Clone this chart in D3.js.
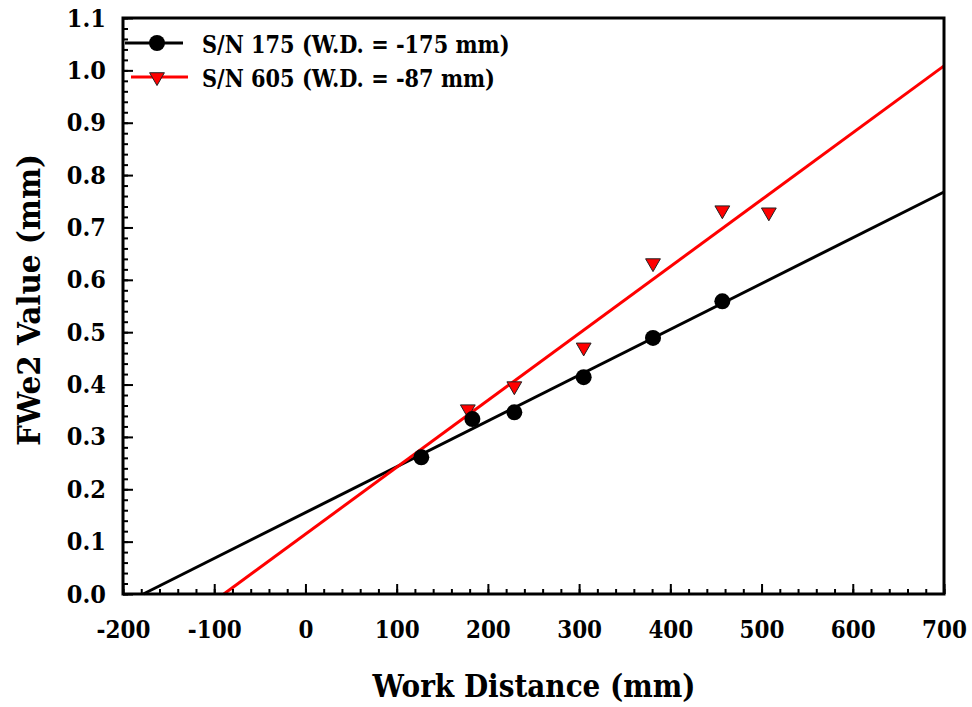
<!DOCTYPE html>
<html>
<head>
<meta charset="utf-8">
<script src="https://cdn.jsdelivr.net/npm/d3@7"></script>
<style>
  body { margin: 0; background: #fff; }
  svg text { font-weight: bold; }
</style>
</head>
<body>
<div id="chart"></div>
<script>
// work distance (mm) and FWe2 value (mm)
const sn175X = [127, 183, 229, 305, 381, 457];
const sn175Y = [0.261, 0.334, 0.347, 0.414, 0.489, 0.559];
const sn605X = [178, 229, 305, 381, 457, 508];
const sn605Y = [0.353, 0.397, 0.471, 0.632, 0.733, 0.729];
const seriesNames = ['S/N 175 (W.D. = -175 mm)', 'S/N 605 (W.D. = -87 mm)'];
const xTicks = [-200, -100, 0, 100, 200, 300, 400, 500, 600, 700];
const yTicks = [0, 0.1, 0.2, 0.3, 0.4, 0.5, 0.6, 0.7, 0.8, 0.9, 1.0, 1.1];

const W = 972, H = 707;
const m = { left: 123, top: 18, right: 28, bottom: 113 };
const iw = W - m.left - m.right;
const ih = H - m.top - m.bottom;
const serif = 'DejaVu Serif';

const svg = d3.select('#chart').append('svg')
	.attr('width', W)
	.attr('height', H)
	.attr('font-family', serif);

const g = svg.append('g').attr('transform', `translate(${m.left},${m.top})`);

const x = d3.scaleLinear().domain([-200, 700]).range([0, iw]);
const y = d3.scaleLinear().domain([0, 1.1]).range([ih, 0]);

// DejaVu Serif is wider than the Times face of the original, so narrow it a bit
const squeeze = (sel, k) => sel.each(function () {
	const len = this.getComputedTextLength();
	d3.select(this).attr('textLength', len * k).attr('lengthAdjust', 'spacingAndGlyphs');
});

// least squares fit, drawn from y = 0 to the right edge
const fit = (xs, ys) => {
	const mx = d3.mean(xs), my = d3.mean(ys);
	const sxy = d3.sum(xs, (v, i) => (v - mx) * (ys[i] - my));
	const sxx = d3.sum(xs, v => (v - mx) * (v - mx));
	const b = sxy / sxx;
	const a = my - b * mx;
	return [[-a / b, 0], [700, a + b * 700]];
};

const line = d3.line().x(d => x(d[0])).y(d => y(d[1]));

g.append('path')
	.attr('d', line(fit(sn175X, sn175Y)))
	.attr('fill', 'none')
	.attr('stroke', '#000')
	.attr('stroke-width', 3);

g.append('path')
	.attr('d', line(fit(sn605X, sn605Y)))
	.attr('fill', 'none')
	.attr('stroke', '#ff0000')
	.attr('stroke-width', 3);

const tri = d3.symbol().type(d3.symbolTriangle).size(95);

g.selectAll('.tri')
	.data(sn605X.map((v, i) => [v, sn605Y[i]]))
	.join('path')
	.attr('class', 'tri')
	.attr('d', tri)
	.attr('transform', d => `translate(${x(d[0])},${y(d[1])}) rotate(180)`)
	.attr('fill', '#ff0000')
	.attr('stroke', '#222')
	.attr('stroke-width', 1);

g.selectAll('.dot')
	.data(sn175X.map((v, i) => [v, sn175Y[i]]))
	.join('circle')
	.attr('class', 'dot')
	.attr('cx', d => x(d[0]))
	.attr('cy', d => y(d[1]))
	.attr('r', 8)
	.attr('fill', '#000');

// minor ticks
g.append('g')
	.attr('transform', `translate(0,${ih})`)
	.call(d3.axisBottom(x).tickValues(d3.range(-200, 701, 20)).tickSize(-5).tickFormat(''))
	.call(a => a.select('.domain').remove())
	.call(a => a.selectAll('line').attr('stroke-width', 2));

g.append('g')
	.call(d3.axisLeft(y).tickValues(d3.range(0, 56).map(i => i * 0.02)).tickSize(-5).tickFormat(''))
	.call(a => a.select('.domain').remove())
	.call(a => a.selectAll('line').attr('stroke-width', 2));

// major ticks
g.append('g')
	.attr('transform', `translate(0,${ih})`)
	.call(d3.axisBottom(x).tickValues(xTicks).tickSize(-10).tickPadding(26).tickFormat(d => String(d)))
	.call(a => a.attr('font-family', serif))
	.call(a => a.select('.domain').remove())
	.call(a => a.selectAll('line').attr('stroke-width', 2))
	.call(a => a.selectAll('text').attr('font-size', 25).attr('fill', '#000').call(squeeze, 0.86));

g.append('g')
	.call(d3.axisLeft(y).tickValues(yTicks).tickSize(-10).tickPadding(17).tickFormat(d => d.toFixed(1)))
	.call(a => a.attr('font-family', serif))
	.call(a => a.select('.domain').remove())
	.call(a => a.selectAll('line').attr('stroke-width', 2))
	.call(a => a.selectAll('text').attr('font-size', 25).attr('fill', '#000').call(squeeze, 0.9));

// frame
g.append('rect')
	.attr('width', iw)
	.attr('height', ih)
	.attr('fill', 'none')
	.attr('stroke', '#000')
	.attr('stroke-width', 3);

// axis titles
svg.append('text')
	.attr('x', 534)
	.attr('y', 697)
	.attr('text-anchor', 'middle')
	.attr('font-size', 31)
	.text('Work Distance (mm)')
	.call(squeeze, 0.9);

svg.append('text')
	.attr('transform', `translate(40,300) rotate(-90)`)
	.attr('text-anchor', 'middle')
	.attr('font-size', 31)
	.text('FWe2 Value (mm)')
	.call(squeeze, 0.95);

// legend
const leg = svg.append('g');
const legRows = [
	{ name: seriesNames[0], color: '#000', x0: 125, x1: 183, y: 43, mark: 'circle' },
	{ name: seriesNames[1], color: '#ff0000', x0: 131, x1: 188, y: 77, mark: 'tri' }
];
legRows.forEach(r => {
	leg.append('line')
		.attr('x1', r.x0).attr('x2', r.x1)
		.attr('y1', r.y).attr('y2', r.y)
		.attr('stroke', r.color)
		.attr('stroke-width', 3);
	if (r.mark === 'circle') {
		leg.append('circle').attr('cx', 157).attr('cy', r.y).attr('r', 8).attr('fill', '#000');
	} else {
		leg.append('path').attr('d', tri)
			.attr('transform', `translate(157,${r.y}) rotate(180)`)
			.attr('fill', '#ff0000').attr('stroke', '#222').attr('stroke-width', 1);
	}
	leg.append('text')
		.attr('x', 202)
		.attr('y', r.y + 10)
		.attr('font-size', 24)
		.text(r.name)
		.call(squeeze, 0.87);
});
</script>
</body>
</html>
